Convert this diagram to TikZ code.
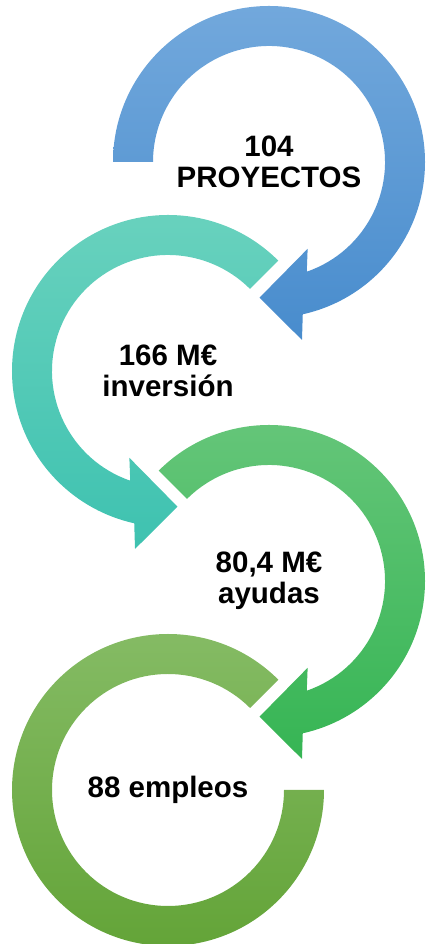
\documentclass[tikz,border=0pt]{standalone}
\usepackage{fontspec}
\setmainfont{Liberation Sans}
\usetikzlibrary{calc,positioning}

\definecolor{blueTop}{RGB}{114,168,220}
\definecolor{blueBot}{RGB}{72,140,205}
\definecolor{tealTop}{RGB}{106,210,190}
\definecolor{tealBot}{RGB}{62,194,176}
\definecolor{greenTop}{RGB}{102,198,122}
\definecolor{greenBot}{RGB}{54,181,84}
\definecolor{oliveTop}{RGB}{134,188,102}
\definecolor{oliveBot}{RGB}{98,163,54}

\begin{document}
\begin{tikzpicture}[x=1pt,y=1pt,
	figure/.style={font=\fontsize{29.5}{31}\selectfont\bfseries, align=center}]
	\useasboundingbox (0,0) rectangle (426,944);
	\coordinate (c1) at (269,782);
	\coordinate (c2) at (168,573);
	\coordinate (c3) at (269,363);
	\coordinate (c4) at (168,154);

	\shade[top color=blueTop, bottom color=blueBot, shift={(c1)}]
		(180:156pt) arc[start angle=180, end angle=-77.5, radius=156pt]
		-- (-79.5:181pt) -- (-94:136pt) -- (-66:95pt) -- (-71:116pt)
		arc[start angle=-71, end angle=180, radius=116pt] -- cycle;
	\shade[top color=tealTop, bottom color=tealBot, shift={(c2)}]
		(45:156pt) arc[start angle=45, end angle=257.5, radius=156pt]
		-- (259.5:181pt) -- (274:136pt) -- (246:95pt) -- (251:116pt)
		arc[start angle=251, end angle=45, radius=116pt] -- cycle;
	\shade[top color=greenTop, bottom color=greenBot, shift={(c3)}]
		(135:156pt) arc[start angle=135, end angle=-77.5, radius=156pt]
		-- (-79.5:181pt) -- (-94:136pt) -- (-66:95pt) -- (-71:116pt)
		arc[start angle=-71, end angle=135, radius=116pt] -- cycle;
	\shade[top color=oliveTop, bottom color=oliveBot, shift={(c4)}]
		(45:156pt) arc[start angle=45, end angle=360, radius=156pt]
		-- (0:116pt) arc[start angle=360, end angle=45, radius=116pt] -- cycle;

	\node[figure] (t1) at (c1) {104\\PROYECTOS};
	\node[figure] (t2) at (c2) {166 M€\\inversión};
	\node[figure] (t3) at (c3) {80,4 M€\\ayudas};
	\node[figure] (t4) at (c4) {88 empleos};
\end{tikzpicture}
\end{document}
